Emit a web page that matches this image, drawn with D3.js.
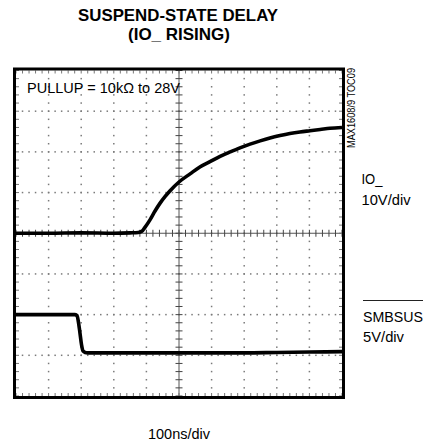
<!DOCTYPE html>
<html><head><meta charset="utf-8">
<script src="https://cdn.jsdelivr.net/npm/d3@7"></script>
<style>
html,body{margin:0;padding:0;background:#fff;}
svg{display:block;}
text{font-family:"Liberation Sans Narrow","Arial Narrow","Liberation Sans",Arial,sans-serif;fill:#000;}
</style></head>
<body>
<script>
// ---- Data (read from the scope capture) ----
// IO_ trace: time (ns), volts (10V/div, 0V at centre line)
const ioTime  = [0, 100, 200, 300, 350, 375, 386, 395, 411, 426, 442, 457, 472, 500, 534, 564, 595, 626, 657, 687, 718, 749, 779, 810, 840, 871, 902, 933, 963, 1000];
const ioVolts = [0, 0, 0.1, 0, 0.1, 0.2, 0.5, 1.4, 3.3, 5.4, 7.4, 9.0, 10.4, 12.6, 14.6, 16.3, 17.6, 18.9, 20.0, 21.0, 21.9, 22.7, 23.4, 24.0, 24.5, 24.9, 25.2, 25.5, 25.8, 26.0];
// SMBSUS trace: time (ns), volts (5V/div, 0V one division above bottom)
const susTime  = [0, 50, 100, 150, 180, 187, 191, 196, 201, 206, 212, 220, 300, 400, 500, 600, 700, 800, 900, 1000];
const susVolts = [5.0, 5.0, 5.0, 5.0, 5.0, 4.9, 4.2, 2.8, 1.3, 0.5, 0.35, 0.3, 0.3, 0.3, 0.3, 0.3, 0.3, 0.35, 0.4, 0.45];
// Screen divisions
const xDivTicks = [0, 100, 200, 300, 400, 500, 600, 700, 800, 900, 1000];   // ns
const yDivTicks = [-40, -30, -20, -10, 0, 10, 20, 30, 40];                  // IO_ volts
const minorPerDiv = 5;

// ---- Layout ----
const W = 438, H = 445;
const L = 16, R = 342, T = 70.5, B = 396;

const svg = d3.select("body").append("svg").attr("width", W).attr("height", H);

const x = d3.scaleLinear().domain([0, 1000]).range([L, R]);
const yIO = d3.scaleLinear().domain([-40, 40]).range([B, T]);
const ySUS = d3.scaleLinear().domain([-5, 35]).range([B, T]);

// minor positions
const xMinor = d3.range(0, 1000 + 1e-6, 100 / minorPerDiv);
const yMinor = d3.range(-40, 40 + 1e-6, 10 / minorPerDiv);

const grid = svg.append("g");
// dotted grid lines (interior divisions), dots at minor positions
xDivTicks.slice(1, -1).forEach(t => {
  if (t === 500) return;
  grid.selectAll(null).data(yMinor.slice(1, -1)).enter().append("rect")
    .attr("x", x(t) - 0.75).attr("y", d => yIO(d) - 0.75)
    .attr("width", 1.5).attr("height", 1.5).attr("fill", "#7a7a7a");
});
yDivTicks.slice(1, -1).forEach(v => {
  if (v === 0) return;
  grid.selectAll(null).data(xMinor.slice(1, -1)).enter().append("rect")
    .attr("x", d => x(d) - 0.75).attr("y", yIO(v) - 0.75)
    .attr("width", 1.5).attr("height", 1.5).attr("fill", "#7a7a7a");
});

// centre axes with ticks
const cx = x(500), cy = yIO(0);
grid.append("line").attr("x1", cx).attr("x2", cx).attr("y1", T).attr("y2", B)
  .attr("stroke", "#555").attr("stroke-width", 1);
grid.append("line").attr("x1", L).attr("x2", R).attr("y1", cy).attr("y2", cy)
  .attr("stroke", "#555").attr("stroke-width", 1);
grid.selectAll(null).data(yMinor).enter().append("line")
  .attr("x1", cx - 3.5).attr("x2", cx + 3.5).attr("y1", d => yIO(d)).attr("y2", d => yIO(d))
  .attr("stroke", "#444").attr("stroke-width", 1);
grid.selectAll(null).data(xMinor).enter().append("line")
  .attr("y1", cy - 3.5).attr("y2", cy + 3.5).attr("x1", d => x(d)).attr("x2", d => x(d))
  .attr("stroke", "#444").attr("stroke-width", 1);

// border ticks (inside)
grid.selectAll(null).data(xMinor).enter().append("line")
  .attr("x1", d => x(d)).attr("x2", d => x(d)).attr("y1", T).attr("y2", T + 3)
  .attr("stroke", "#777").attr("stroke-width", 1);
grid.selectAll(null).data(xMinor).enter().append("line")
  .attr("x1", d => x(d)).attr("x2", d => x(d)).attr("y1", B - 3).attr("y2", B)
  .attr("stroke", "#777").attr("stroke-width", 1);
grid.selectAll(null).data(yMinor).enter().append("line")
  .attr("y1", d => yIO(d)).attr("y2", d => yIO(d)).attr("x1", L).attr("x2", L + 3)
  .attr("stroke", "#777").attr("stroke-width", 1);
grid.selectAll(null).data(yMinor).enter().append("line")
  .attr("y1", d => yIO(d)).attr("y2", d => yIO(d)).attr("x1", R - 3).attr("x2", R)
  .attr("stroke", "#777").attr("stroke-width", 1);

// traces
const ioData = ioTime.map((t, i) => [t, ioVolts[i]]);
const susData = susTime.map((t, i) => [t, susVolts[i]]);
svg.append("path").datum(ioData)
  .attr("d", d3.line().x(d => x(d[0])).y(d => yIO(d[1])).curve(d3.curveMonotoneX))
  .attr("fill", "none").attr("stroke", "#000").attr("stroke-width", 3.6).attr("stroke-linejoin", "round");
svg.append("path").datum(susData)
  .attr("d", d3.line().x(d => x(d[0])).y(d => ySUS(d[1])).curve(d3.curveMonotoneX))
  .attr("fill", "none").attr("stroke", "#000").attr("stroke-width", 3.6).attr("stroke-linejoin", "round");

// frame
svg.append("rect").attr("x", 14.5).attr("y", 69).attr("width", 329).attr("height", 328.5)
  .attr("fill", "none").attr("stroke", "#000").attr("stroke-width", 3);

// ---- Text ----
function txt(s, px, py, size, len, opts = {}) {
  const t = svg.append("text").attr("x", px).attr("y", py).attr("font-size", size)
    .attr("textLength", len).attr("lengthAdjust", "spacingAndGlyphs").text(s);
  if (opts.bold) t.attr("font-weight", "bold");
  if (opts.transform) t.attr("transform", opts.transform);
  return t;
}
txt("SUSPEND-STATE DELAY", 78, 20.5, 16.5, 200, {bold: true});
txt("(IO_ RISING)", 128, 39.5, 16.5, 102, {bold: true});
txt("PULLUP = 10k\u03A9 to 28V", 27, 93, 15.5, 153);
txt("MAX1608/9 TOC09", 0, 0, 10, 80, {transform: "translate(355,148) rotate(-90)"});
txt("IO_", 361.5, 183.5, 15.5, 21);
txt("10V/div", 361.5, 204.5, 15.5, 49);
txt("SMBSUS", 363, 321.5, 15.5, 60);
svg.append("line").attr("x1", 363).attr("x2", 423).attr("y1", 300.5).attr("y2", 300.5)
  .attr("stroke", "#222").attr("stroke-width", 1);
txt("5V/div", 363, 342, 15.5, 41);
txt("100ns/div", 148, 439, 15.5, 62);
</script>
</body></html>
